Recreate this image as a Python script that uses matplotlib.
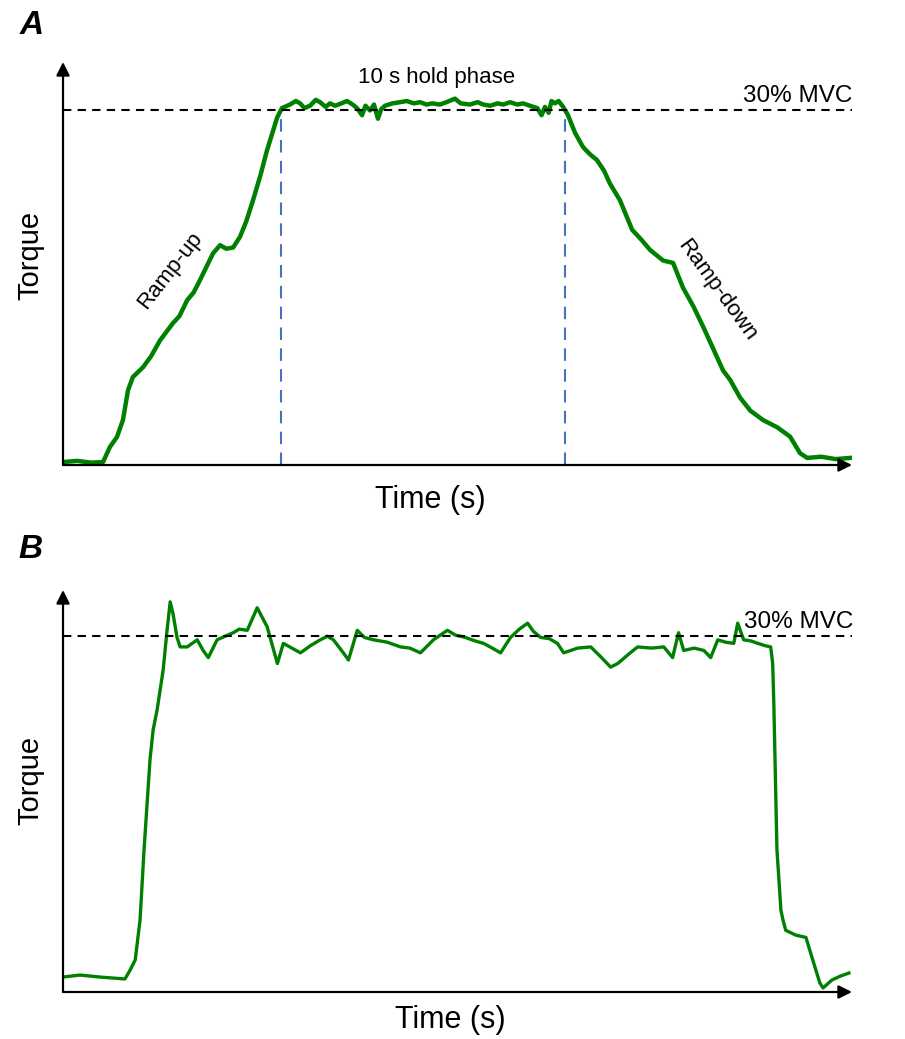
import matplotlib
matplotlib.use('Agg')
from matplotlib import pyplot as plt

plt.rcParams['font.family'] = ['Liberation Sans', 'DejaVu Sans']

# panel A: ramp-up / hold / ramp-down (time in s, torque in %MVC)
time_a = [0.0, 0.5, 1.0, 1.41, 1.65, 1.90, 2.11, 2.29, 2.46, 2.82, 3.1, 3.42, 3.87, 4.1, 4.37,
          4.6, 4.82, 5.28, 5.53, 5.75, 5.99, 6.23, 6.45, 6.69, 6.95, 7.18, 7.54, 7.71,
          7.99, 8.2, 8.35, 8.5, 8.7, 8.9, 9.05, 9.25, 9.4, 9.58, 9.8, 10.0, 10.2, 10.35,
          10.53, 10.65, 10.81, 10.95, 11.09, 11.2, 11.34, 11.6, 11.87, 12.1, 12.35, 12.57,
          12.8, 13.0, 13.27, 13.5, 13.8, 14.0, 14.33, 14.6, 14.8, 15.04, 15.3, 15.5, 15.74,
          16.0, 16.2, 16.44, 16.7, 16.85, 16.97, 17.1, 17.2, 17.32, 17.45, 17.61,
          17.78, 18.03, 18.31, 18.55, 18.80, 19.05, 19.26, 19.61, 20.04, 20.35, 20.67,
          21.13, 21.48, 21.83, 22.2, 22.54, 22.9, 23.24, 23.49, 23.84, 24.2, 24.65, 25.14,
          25.60, 25.95, 26.20, 26.7, 27.2, 27.71]
torque_a = [0.25, 0.35, 0.2, 0.25, 1.52, 2.37, 3.80, 6.34, 7.44, 8.28, 9.2, 10.56, 12.0,
            12.6, 13.94, 14.6, 15.63, 17.9, 18.6, 18.3, 18.4, 19.3, 20.6, 22.4, 24.5, 26.6,
            29.4, 30.2,
            30.5, 30.8, 30.6, 30.2, 30.4, 30.9, 30.7, 30.3, 30.6, 30.4, 30.6, 30.8, 30.5,
            30.2, 29.6, 30.4, 30.0, 30.5, 29.3, 30.1, 30.4, 30.6, 30.7, 30.8, 30.6, 30.7,
            30.5, 30.6, 30.5, 30.7, 31.0, 30.6, 30.5, 30.7, 30.5, 30.4, 30.6, 30.5, 30.7,
            30.5, 30.6, 30.4, 30.2, 29.6, 30.3, 29.8, 30.8, 30.6, 30.8, 30.3,
            29.6, 28.1, 26.9, 26.3, 25.8, 24.9, 23.8, 22.4, 19.9, 19.1, 18.2, 17.3, 17.1,
            15.0, 13.4, 11.7, 9.8, 8.0, 7.2, 5.7, 4.6, 3.8, 3.2, 2.4, 1.0, 0.6, 0.7, 0.5,
            0.6]
hold_bounds = [7.68, 17.68]

# panel B: fast rise / hold / fast release
time_b = [0.0, 0.60, 1.30, 2.18, 2.36, 2.54, 2.71, 2.85, 3.06, 3.17, 3.31, 3.52, 3.66, 3.77,
          3.87, 4.01, 4.12, 4.37, 4.72, 4.93, 5.11, 5.42, 5.7, 5.99, 6.2, 6.48, 6.83, 7.18,
          7.54, 7.75, 8.05, 8.35, 8.7, 9.05, 9.3, 9.51, 9.86, 10.04, 10.35, 10.6, 10.92,
          11.4, 11.87, 12.2, 12.57, 13.03, 13.52, 13.8, 14.15, 14.5, 14.79, 15.1, 15.39,
          15.74, 16.05, 16.34, 16.55, 16.80, 17.1, 17.39, 17.61, 18.1, 18.56, 18.9, 19.26,
          19.51, 19.9, 20.21, 20.7, 21.13, 21.44, 21.65, 21.83, 22.2, 22.54, 22.78, 23.03,
          23.3, 23.59, 23.73, 23.94, 24.2, 24.44, 24.7, 24.89, 24.96, 25.0, 25.11, 25.25,
          25.32, 25.42, 25.77, 26.13, 26.37, 26.62, 26.73, 27.04, 27.3, 27.64]
torque_b = [1.26, 1.43, 1.26, 1.10, 1.85, 2.70, 6.07, 11.97, 19.6, 22.1, 23.8, 27.1, 30.5,
            32.9, 31.9, 29.9, 29.1, 29.1, 29.7, 28.8, 28.2, 29.7, 30.0, 30.3, 30.6, 30.5,
            32.4, 30.8, 27.7, 29.4, 29.0, 28.6, 29.2, 29.7, 30.0, 29.7, 28.6, 28.0, 30.5,
            29.9, 29.7, 29.5, 29.1, 29.0, 28.6, 29.7, 30.5, 30.1, 29.9, 29.6, 29.4, 29.0,
            28.6, 29.9, 30.6, 31.1, 30.4, 29.9, 29.8, 29.4, 28.6, 29.0, 29.1, 28.3, 27.4,
            27.7, 28.5, 29.1, 29.0, 29.1, 28.2, 30.3, 28.8, 29.0, 28.8, 28.2, 29.7, 29.5,
            29.4, 31.1, 29.7, 29.6, 29.4, 29.2, 29.1, 27.7, 24.4, 12.0, 6.9, 6.1, 5.2, 4.8,
            4.6, 2.7, 0.76, 0.34, 1.0, 1.3, 1.6]

mvc = 30
green = '#008000'
W, H = 905, 1039

fig = plt.figure(figsize=(W / 100, H / 100), dpi=100)


def setup(ax, xmax, ymax):
    ax.set_xlim(0, xmax)
    ax.set_ylim(0, ymax)
    for s in ax.spines.values():
        s.set_visible(False)
    ax.set_xticks([])
    ax.set_yticks([])
    ax.patch.set_alpha(0)
    arrow = dict(arrowstyle='-|>', lw=1.6, color='black', mutation_scale=20,
                 shrinkA=0, shrinkB=0)
    ax.annotate('', xy=(1, 0), xytext=(0, 0), xycoords='axes fraction', arrowprops=arrow)
    ax.annotate('', xy=(0, 1), xytext=(0, 0), xycoords='axes fraction', arrowprops=arrow)


def px(x, y):
    return x / W, 1 - y / H


# ---- A ----
ax1 = fig.add_axes([63 / W, 1 - 465 / H, (852 - 63) / W, (465 - 62) / H])
setup(ax1, 27.78, 34.1)
ax1.plot(time_a, torque_a, color=green, lw=3.2, solid_joinstyle='round')
ax1.axhline(mvc, color='black', ls=(0, (4, 3)), lw=1.5)
ax1.vlines(hold_bounds, 0, 29.8, colors='#4472C4', linestyles=(0, (6, 4)), lw=1.5)
ax1.text(13.17, 32.8, '10 s hold phase', ha='center', va='center', fontsize=16)
ax1.text(27.8, 31.2, '30% MVC', ha='right', va='center', fontsize=17.5)
ax1.text(3.77, 16.5, 'Ramp-up', ha='center', va='center', rotation=52, fontsize=16)
ax1.text(23.03, 14.8, 'Ramp-down', ha='center', va='center', rotation=-54, fontsize=16)

fig.text(*px(430, 500), 'Time (s)', ha='center', va='center', fontsize=22)
fig.text(*px(30, 255), 'Torque', ha='center', va='center', rotation=90, fontsize=21)
fig.text(*px(32, 25), 'A', ha='center', va='center', fontsize=24, fontweight='bold', style='italic')

# ---- B ----
ax2 = fig.add_axes([63 / W, 1 - 992 / H, (852 - 63) / W, (992 - 590) / H])
setup(ax2, 27.75, 33.9)
ax2.plot(time_b, torque_b, color=green, lw=2.4, solid_joinstyle='round')
ax2.axhline(mvc, color='black', ls=(0, (4, 3)), lw=1.5)
ax2.text(27.8, 31.2, '30% MVC', ha='right', va='center', fontsize=17.5)

fig.text(*px(450, 1020), 'Time (s)', ha='center', va='center', fontsize=22)
fig.text(*px(30, 780), 'Torque', ha='center', va='center', rotation=90, fontsize=21)
fig.text(*px(30, 550), 'B', ha='center', va='center', fontsize=24, fontweight='bold', style='italic')

fig.savefig('out.png', dpi=100)
